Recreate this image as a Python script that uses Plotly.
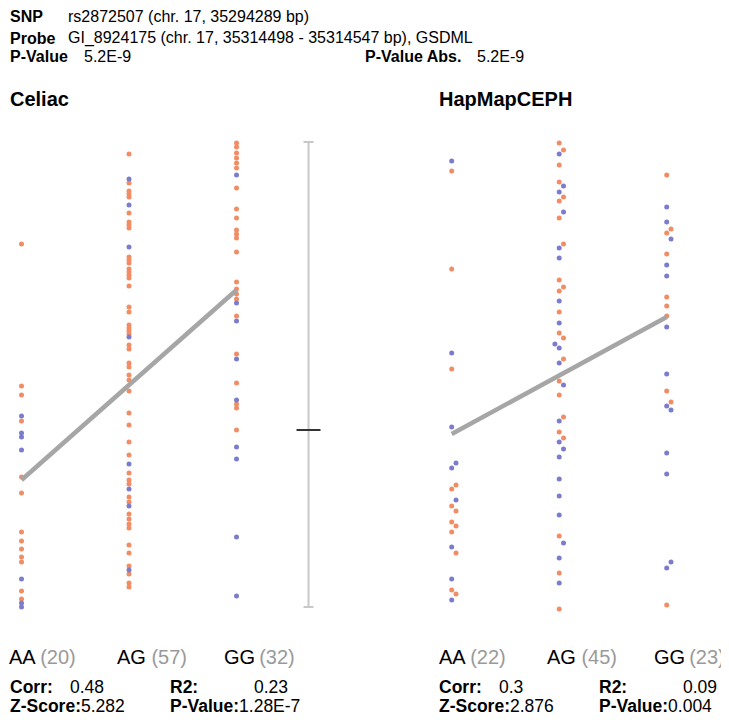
import plotly.graph_objects as go

# ---------------- data ----------------
genotypes = ["AA", "AG", "GG"]

# Celiac panel: expression values per genotype, split by the two sample groups (orange / blue)
celiac_counts = [20, 57, 32]
celiac_orange = {
    "AA": [3.76, 2.34, 2.25, 1.99, 1.43, 1.27, 0.88, 0.79, 0.71, 0.63, 0.58, 0.29, 0.21],
    "AG": [4.66, 4.37, 4.29, 4.26, 4.23, 4.07, 3.98, 3.95, 3.92, 3.63, 3.60, 3.57, 3.51,
           3.48, 3.45, 3.42, 3.34, 3.13, 3.08, 2.95, 2.92, 2.89, 2.86, 2.75, 2.71, 2.57,
           2.53, 2.45, 2.40, 2.29, 2.07, 1.95, 1.78, 1.65, 1.47, 1.40, 1.36, 1.23, 1.18,
           1.06, 1.01, 0.96, 0.92, 0.75, 0.67, 0.54, 0.46, 0.37, 0.33],
    "GG": [4.77, 4.73, 4.67, 4.62, 4.57, 4.52, 4.32, 4.11, 4.02, 3.90, 3.86, 3.82, 3.68,
           3.38, 3.31, 3.26, 3.21, 3.04, 2.66, 2.37, 2.16, 2.12, 1.90],
}
celiac_blue = {
    "AA": [2.04, 1.87, 1.83, 1.70, 0.41, 0.17, 0.13],
    "AG": [4.41, 4.15, 3.73, 2.83, 1.56, 1.31, 1.14, 0.50],
    "GG": [4.45, 3.17, 2.99, 2.61, 2.20, 1.73, 1.61, 0.83, 0.24],
}
celiac_fit = [1.40, 3.30]          # fitted values at AA and GG
celiac_range = [0.13, 4.78, 1.90]  # low, high, mid
celiac_stats = {"Corr": "0.48", "R2": "0.23", "Z-Score": "5.282", "P-Value": "1.28E-7"}

# HapMapCEPH panel: values, group ("o"/"b") and beeswarm slot (-1/0/1) per sample
hapmap_counts = [22, 45, 23]
hapmap_AA_val = [4.59, 4.49, 3.51, 2.67, 2.51, 1.93, 1.57, 1.52, 1.35, 1.31, 1.20, 1.14,
                 1.09, 0.98, 0.94, 0.88, 0.73, 0.67, 0.41, 0.30, 0.26, 0.20]
hapmap_AA_grp = ["b", "o", "o", "b", "o", "b", "b", "b", "o", "o", "b", "o",
                 "o", "o", "o", "o", "b", "o", "b", "o", "o", "b"]
hapmap_AA_slot = [0, 0, 0, 0, 0, 0, 1, 0, 1, 0, 1, 0, 1, 0, 1, 0, 0, 1, 0, 0, 1, 0]

hapmap_AG_val = [4.77, 4.70, 4.66, 4.55, 4.38, 4.34, 4.28, 4.23, 4.19, 4.08, 4.02, 3.76,
                 3.72, 3.62, 3.40, 3.33, 3.29, 3.19, 3.08, 2.97, 2.87, 2.82, 2.76, 2.72,
                 2.61, 2.57, 2.39, 2.35, 2.25, 2.03, 1.99, 1.88, 1.82, 1.78, 1.71, 1.63,
                 1.41, 1.24, 1.05, 0.84, 0.77, 0.62, 0.47, 0.37, 0.11]
hapmap_AG_grp = ["o", "o", "b", "o", "o", "b", "b", "o", "o", "b", "o", "o",
                 "b", "b", "o", "o", "o", "b", "o", "b", "o", "o", "b", "b",
                 "o", "b", "o", "b", "o", "o", "b", "o", "o", "b", "b", "b",
                 "b", "b", "b", "o", "b", "b", "o", "b", "o"]
hapmap_AG_slot = [0, 1, 0, 0, 0, 1, 0, 1, 0, 1, 0, 1,
                  0, 0, 0, 1, 0, 0, 0, 0, 0, 1, -1, 0,
                  1, 0, 0, 1, 0, 1, 0, 0, 1, 0, 1, 0,
                  0, 0, 0, 0, 1, 0, 0, 0, 0]

hapmap_GG_val = [4.45, 4.13, 3.98, 3.91, 3.87, 3.81, 3.66, 3.55, 3.44, 3.23, 3.14, 3.04,
                 2.93, 2.46, 2.29, 2.18, 2.14, 2.10, 1.67, 1.46, 0.58, 0.52, 0.15]
hapmap_GG_grp = ["o", "b", "b", "o", "o", "b", "o", "b", "b", "o", "o", "o",
                 "b", "b", "o", "o", "b", "b", "b", "b", "b", "b", "o"]
hapmap_GG_slot = [0, 0, 0, 1, 0, 1, 0, 0, 0, 0, 0, 0,
                  0, 0, 0, 1, 0, 1, 0, 0, 1, 0, 0]
hapmap_fit = [1.86, 3.03]
hapmap_range = [0.13, 4.78, 3.83]
hapmap_stats = {"Corr": "0.3", "R2": "0.09", "Z-Score": "2.876", "P-Value": "0.004"}

snp_text = "rs2872507 (chr. 17, 35294289 bp)"
probe_text = "GI_8924175 (chr. 17, 35314498 - 35314547 bp), GSDML"
pvalue_text = "5.2E-9"
pvalue_abs_text = "5.2E-9"

# ---------------- styling ----------------
VW, VH = 729, 720      # browser window
OFF = 8                # default page body margin
W, H = VW - OFF, VH - OFF
ORANGE = "#F28C64"
BLUE = "#7B7DCC"
FIT = "#A6A6A6"
FONT = "Liberation Sans"
STEP = 107.5          # px between genotype columns
JIT = 4.3 / STEP      # beeswarm offset in axis units
BAR_X = 2.67          # position of the range bar (axis units)

fig = go.Figure()


def px(x, y):
    """window pixel -> paper coordinate"""
    return (x - OFF) / W, 1 - (y - OFF) / H


def add_points(xs, ys, color, xaxis):
    fig.add_trace(go.Scatter(x=xs, y=ys, mode="markers", xaxis=xaxis, yaxis="y",
                             marker=dict(color=color, size=5, line=dict(width=0)),
                             hoverinfo="skip", showlegend=False))


# Celiac points
for i, g in enumerate(genotypes):
    add_points([i] * len(celiac_orange[g]), celiac_orange[g], ORANGE, "x")
    add_points([i] * len(celiac_blue[g]), celiac_blue[g], BLUE, "x")

# HapMap points
hap_cols = [(hapmap_AA_val, hapmap_AA_grp, hapmap_AA_slot),
            (hapmap_AG_val, hapmap_AG_grp, hapmap_AG_slot),
            (hapmap_GG_val, hapmap_GG_grp, hapmap_GG_slot)]
for i, (vals, grps, slots) in enumerate(hap_cols):
    for grp, col in (("o", ORANGE), ("b", BLUE)):
        xs = [i + s * JIT for v, gg, s in zip(vals, grps, slots) if gg == grp]
        ys = [v for v, gg in zip(vals, grps) if gg == grp]
        add_points(xs, ys, col, "x2")

# fit lines
for fit, ax in ((celiac_fit, "x"), (hapmap_fit, "x2")):
    fig.add_trace(go.Scatter(x=[0, 2], y=fit, mode="lines", xaxis=ax, yaxis="y",
                             line=dict(color=FIT, width=4.5), hoverinfo="skip",
                             showlegend=False))

# range bars
for rng, ax in ((celiac_range, "x"), (hapmap_range, "x2")):
    lo, hi, mid = rng
    cap = 5 / STEP
    half = 12 / STEP
    fig.add_shape(type="line", xref=ax, yref="y", x0=BAR_X, x1=BAR_X, y0=lo, y1=hi,
                  line=dict(color="#C8C8C8", width=2))
    for yy in (lo, hi):
        fig.add_shape(type="line", xref=ax, yref="y", x0=BAR_X - cap, x1=BAR_X + cap,
                      y0=yy, y1=yy, line=dict(color="#C8C8C8", width=2))
    fig.add_shape(type="line", xref=ax, yref="y", x0=BAR_X - half, x1=BAR_X + half,
                  y0=mid, y1=mid, line=dict(color="#333333", width=2))


# ---------------- text ----------------
def text(x, y, s, size=15, bold=False, color="#000000", anchor="left"):
    xp, yp = px(x, y)
    if bold:
        s = "<b>" + s + "</b>"
    fig.add_annotation(x=xp, y=yp, xref="paper", yref="paper", text=s, showarrow=False,
                       xanchor=anchor, yanchor="middle",
                       font=dict(family=FONT, size=size, color=color))


HS = 16
text(8, 16, "SNP", HS, True)
text(66, 16, snp_text, HS)
text(8, 38, "Probe", HS, True)
text(66, 38, probe_text, HS)
text(8, 57, "P-Value", HS, True)
text(82, 57, pvalue_text, HS)
text(363, 57, "P-Value Abs.", HS, True)
text(475, 57, pvalue_abs_text, HS)
text(8, 99, "Celiac", 20, True)
text(437, 99, "HapMapCEPH", 20, True)

label_y = px(0, 657)[1]
for counts, ax in ((celiac_counts, "x"), (hapmap_counts, "x2")):
    for i, (g, n) in enumerate(zip(genotypes, counts)):
        gap = "&#8201;" if g == "GG" else " "
        fig.add_annotation(x=i, y=label_y, xref=ax, yref="paper", yanchor="middle",
                           xanchor="left", xshift=-14.5,
                           text=f"{g}{gap}<span style='color:#9A9A9A'>({n})</span>",
                           showarrow=False, font=dict(family=FONT, size=20, color="#000000"))

SS = 17.5
for stats, dx in ((celiac_stats, 0), (hapmap_stats, 429)):
    text(8 + dx, 687, "Corr:", SS, True)
    text(68 + dx, 687, stats["Corr"], SS)
    text(168 + dx, 687, "R2:", SS, True)
    text(252 + dx, 687, stats["R2"], SS)
    text(8 + dx, 706, "<b>Z-Score:</b>" + stats["Z-Score"], SS)
    text(168 + dx, 706, "<b>P-Value:</b>" + stats["P-Value"], SS)

# ---------------- axes ----------------
x0_left = 21.5
x0_right = 451.7
ax_common = dict(domain=[0, 1], showgrid=False, zeroline=False, showticklabels=False,
                 ticks="", showline=False, fixedrange=True)
fig.update_layout(
    width=W, height=H,
    margin=dict(l=0, r=0, t=0, b=0),
    paper_bgcolor="white", plot_bgcolor="white",
    xaxis=dict(range=[(OFF - x0_left) / STEP, (VW - x0_left) / STEP], **ax_common),
    xaxis2=dict(range=[(OFF - x0_right) / STEP, (VW - x0_right) / STEP], overlaying="x",
                **ax_common),
    yaxis=dict(range=[(620 - VH) / 100, (620 - OFF) / 100], domain=[0, 1], showgrid=False,
               zeroline=False, showticklabels=False, ticks="", showline=False,
               fixedrange=True),
    showlegend=False,
)

fig.write_html("out.html")
